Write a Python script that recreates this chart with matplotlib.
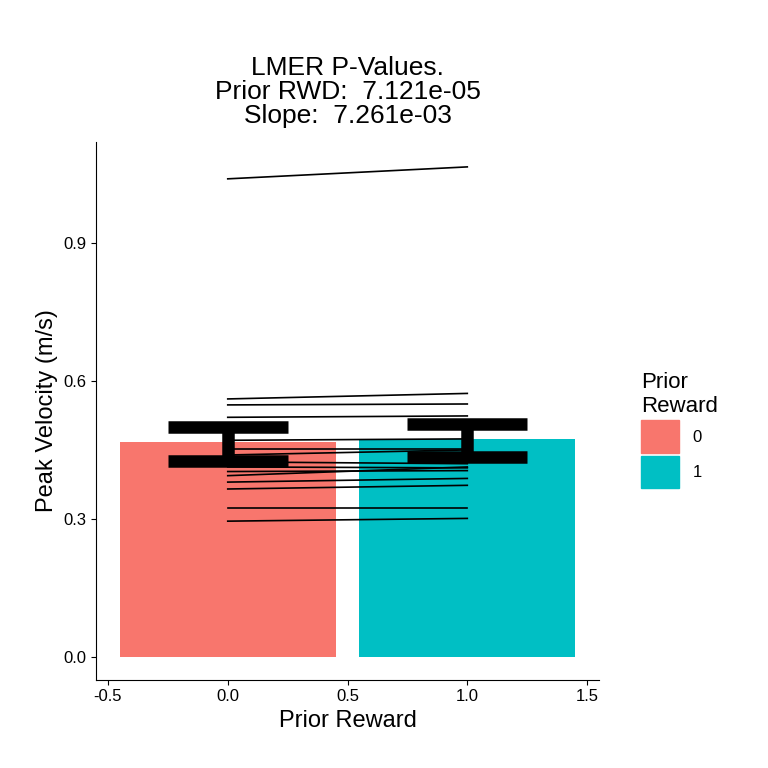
import matplotlib
matplotlib.use("Agg")
import matplotlib.pyplot as plt
from matplotlib.patches import Patch

plt.rcParams["font.family"] = ["Liberation Sans", "DejaVu Sans"]

# data
reward = [0, 1]
bar_means = [0.467, 0.474]
err_low = [0.426, 0.435]
err_high = [0.500, 0.506]
bar_colors = ["#F8766D", "#00BFC4"]

subj_r0 = [1.040, 0.561, 0.548, 0.521, 0.471, 0.453, 0.439, 0.424, 0.413,
           0.403, 0.394, 0.380, 0.365, 0.324, 0.295]
subj_r1 = [1.066, 0.573, 0.550, 0.524, 0.474, 0.453, 0.450, 0.420, 0.411,
           0.405, 0.413, 0.388, 0.373, 0.324, 0.301]

fig = plt.figure(figsize=(7.68, 7.68), dpi=100)
ax = fig.add_axes([0.125, 0.115, 0.655, 0.70])

ax.bar(reward, bar_means, width=0.9, color=bar_colors)
for a, b in zip(subj_r0, subj_r1):
    ax.plot(reward, [a, b], color="black", lw=1.2)
for x, lo, hi in zip(reward, err_low, err_high):
    ax.plot([x, x], [lo, hi], color="black", lw=9, solid_capstyle="butt")
    ax.plot([x - 0.25, x + 0.25], [lo, lo], color="black", lw=9, solid_capstyle="butt")
    ax.plot([x - 0.25, x + 0.25], [hi, hi], color="black", lw=9, solid_capstyle="butt")

ax.set_xlim(-0.55, 1.55)
ax.set_ylim(-0.05, 1.12)
ax.set_xticks([-0.5, 0.0, 0.5, 1.0, 1.5])
ax.set_xticklabels(["-0.5", "0.0", "0.5", "1.0", "1.5"])
ax.set_yticks([0.0, 0.3, 0.6, 0.9])
ax.set_yticklabels(["0.0", "0.3", "0.6", "0.9"])
ax.spines["top"].set_visible(False)
ax.spines["right"].set_visible(False)
ax.tick_params(labelsize=12, colors="black")
ax.set_xlabel("Prior Reward", fontsize=17)
ax.set_ylabel("Peak Velocity (m/s)", fontsize=17)
ax.set_title("LMER P-Values.\nPrior RWD:  7.121e-05\nSlope:  7.261e-03",
             fontsize=19, linespacing=1.0, pad=14)

handles = [Patch(color=c) for c in bar_colors]
fig.legend(handles, ["0", "1"], title="Prior\nReward", loc="center left",
           bbox_to_anchor=(0.815, 0.44), frameon=False, fontsize=12,
           title_fontsize=16, handlelength=2.3, handleheight=2.6,
           labelspacing=0.2, alignment="left")

fig.savefig("out.png", dpi=100)
